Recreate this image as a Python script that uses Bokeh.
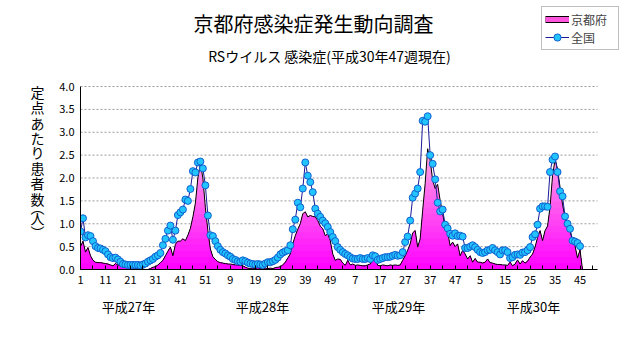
import numpy as np
from bokeh.plotting import figure
from bokeh.models import (Range1d, FixedTicker, Label, Legend, LegendItem,
                          NumeralTickFormatter, LinearAxis)
from bokeh.embed import file_html
from bokeh.resources import INLINE

# ---------------- data ----------------
tick_positions = [0, 10, 20, 30, 40, 50, 60, 70, 80, 90, 100, 110, 120, 130, 140, 150, 160, 170, 180, 190, 200]
tick_labels = ["1", "11", "21", "31", "41", "51", "9", "19", "29", "39", "49",
               "7", "17", "27", "37", "47", "5", "15", "25", "35", "45"]
year_labels = ["平成27年", "平成28年", "平成29年", "平成30年"]
y_ticks = [0, 0.5, 1, 1.5, 2, 2.5, 3, 3.5, 4]

# 全国 (national), weekly per-sentinel values
zenkoku = [
    0.83, 1.12, 0.70, 0.75, 0.73, 0.62, 0.51, 0.47, 0.46, 0.43,
    0.40, 0.33, 0.27, 0.25, 0.26, 0.22, 0.17, 0.12, 0.11, 0.10,
    0.10, 0.10, 0.10, 0.10, 0.09, 0.11, 0.13, 0.17, 0.20, 0.23,
    0.28, 0.31, 0.36, 0.53, 0.67, 0.85, 0.96, 0.65, 0.85, 1.19,
    1.25, 1.31, 1.53, 1.50, 1.76, 2.15, 2.12, 2.34, 2.36, 2.21,
    1.84, 1.18,
    0.75, 0.73, 0.62, 0.51, 0.43, 0.38, 0.35, 0.31, 0.28, 0.23,
    0.21, 0.18, 0.17, 0.20, 0.18, 0.15, 0.13, 0.12, 0.11, 0.12,
    0.11, 0.10, 0.13, 0.16, 0.16, 0.18, 0.21, 0.26, 0.33, 0.37,
    0.40, 0.42, 0.53, 0.88, 1.09, 1.46, 1.36, 1.77, 2.34, 2.05,
    1.91, 1.69, 1.33, 1.22, 1.15, 1.07, 1.01, 0.93, 0.82, 0.71,
    0.62, 0.49,
    0.43, 0.38, 0.34, 0.31, 0.27, 0.24, 0.23, 0.23, 0.25, 0.23,
    0.23, 0.25, 0.23, 0.31, 0.29, 0.21, 0.23, 0.25, 0.27, 0.27,
    0.28, 0.30, 0.32, 0.30, 0.31, 0.38, 0.60, 0.72, 1.07, 1.57,
    1.66, 1.77, 2.13, 3.25, 3.23, 3.35, 2.50, 2.31, 1.97, 1.46,
    1.27, 1.31, 0.98, 0.90, 0.78, 0.74, 0.79, 0.73, 0.74, 0.72,
    0.47, 0.47,
    0.50, 0.53, 0.49, 0.43, 0.38, 0.36, 0.38, 0.42, 0.43, 0.47,
    0.42, 0.38, 0.33, 0.42, 0.42, 0.38, 0.25, 0.27, 0.32, 0.33,
    0.32, 0.37, 0.38, 0.42, 0.49, 0.71, 0.77, 0.98, 1.33, 1.38,
    1.38, 1.37, 2.13, 2.40, 2.47, 2.13, 1.71, 1.60, 1.16, 1.00,
    0.89, 0.63, 0.61, 0.58, 0.51,
]

# 京都府 (Kyoto prefecture)
kyoto = [
    0.50, 0.62, 0.38, 0.48, 0.30, 0.20, 0.16, 0.15, 0.15, 0.14,
    0.13, 0.12, 0.10, 0.08, 0.13, 0.10, 0.08, 0.06, 0.05, 0.05,
    0.04, 0.04, 0.03, 0.02, 0.02, 0.01, 0.00, 0.00, 0.02, 0.05,
    0.06, 0.10, 0.15, 0.20, 0.30, 0.40, 0.49, 0.30, 0.55, 0.62,
    0.62, 0.67, 0.63, 0.75, 0.90, 1.15, 1.45, 2.00, 2.32, 2.00,
    1.35, 0.85,
    0.45, 0.28, 0.22, 0.17, 0.15, 0.14, 0.13, 0.12, 0.12, 0.11,
    0.10, 0.10, 0.09, 0.08, 0.05, 0.03, 0.02, 0.03, 0.02, 0.04,
    0.02, 0.01, 0.03, 0.02, 0.03, 0.02, 0.04, 0.05, 0.06, 0.10,
    0.16, 0.25, 0.34, 0.56, 0.74, 0.88, 1.00, 1.22, 1.26, 1.15,
    1.18, 1.16, 1.15, 1.07, 0.95, 0.89, 0.74, 0.78, 0.63, 0.34,
    0.20, 0.23,
    0.22, 0.14, 0.09, 0.20, 0.10, 0.12, 0.09, 0.10, 0.09, 0.08,
    0.08, 0.10, 0.12, 0.20, 0.25, 0.09, 0.08, 0.10, 0.09, 0.08,
    0.10, 0.09, 0.10, 0.09, 0.10, 0.20, 0.30, 0.42, 0.56, 0.80,
    0.85, 0.49, 0.67, 1.29, 1.88, 2.64, 2.39, 1.95, 1.77, 1.86,
    1.51, 1.22, 0.93, 0.82, 0.52, 0.60, 0.50, 0.56, 0.30, 0.42,
    0.34, 0.23,
    0.30, 0.16, 0.24, 0.16, 0.16, 0.14, 0.16, 0.23, 0.15, 0.14,
    0.12, 0.11, 0.11, 0.10, 0.10, 0.09, 0.16, 0.08, 0.12, 0.21,
    0.12, 0.19, 0.14, 0.18, 0.27, 0.34, 0.49, 0.70, 0.85, 0.63,
    0.85, 0.95, 1.36, 2.05, 2.40, 2.20, 1.80, 1.42, 1.15, 0.90,
    0.85, 0.63, 0.52, 0.25, 0.43, 0.00,
]

# ---------------- layout constants ----------------
FONT = "Noto Sans CJK JP"
W, H = 631, 347
PL, PR, PT, PB = 80, 597, 86, 269      # pixel box of the plotting area (axes extent)
XMAX = 207                              # category axis runs 0..207 (208 weeks)
YMAX = 4.0
# frame extends to the top and right edges of the canvas so that texts/legend fit
XEND = XMAX * (W - PL) / (PR - PL)
YEND = YMAX * PB / (PB - PT)


def to_data(X, Y):
    return ((X - PL) * XMAX / (PR - PL), (PB - Y) * YMAX / (PB - PT))


p = figure(width=W, height=H, output_backend="svg", toolbar_location=None, title=None,
           x_range=Range1d(0, XEND), y_range=Range1d(0, YEND),
           min_border_left=PL, min_border_right=0,
           min_border_top=0, min_border_bottom=H - PB)
p.outline_line_color = None
p.background_fill_color = "white"
p.border_fill_color = "white"
p.xgrid.grid_line_color = None
p.ygrid.grid_line_color = None

# horizontal dotted grid lines (y ticks), limited to the axis extent
p.segment(x0=[0] * len(y_ticks), x1=[XMAX] * len(y_ticks), y0=y_ticks, y1=y_ticks,
          line_color="#9a9a9a", line_dash="2 2", line_width=1)

# axes
p.xaxis.ticker = FixedTicker(ticks=tick_positions, minor_ticks=list(range(5, XMAX, 10)))
p.xaxis.major_label_overrides = {pos: lab for pos, lab in zip(tick_positions, tick_labels)}
p.xaxis.bounds = (0, XMAX)
p.xaxis.major_tick_in = 4
p.xaxis.major_tick_out = 0
p.xaxis.minor_tick_in = 4
p.xaxis.minor_tick_out = 0
p.xaxis.major_label_standoff = 6
p.yaxis.ticker = FixedTicker(ticks=y_ticks)
p.yaxis.formatter = NumeralTickFormatter(format="0.0")
p.yaxis.bounds = (0, YMAX)
p.yaxis.major_tick_in = 0
p.yaxis.major_tick_out = 0
p.yaxis.minor_tick_line_color = None
p.yaxis.major_label_standoff = 6
for ax in (p.xaxis, p.yaxis):
    ax.axis_line_color = "black"
    ax.axis_line_width = 1
    ax.major_tick_line_color = "black"
    ax.major_label_text_font = FONT
    ax.major_label_text_font_size = "11px"
    ax.major_label_text_color = "black"

# year labels as a second, line-less axis below the week axis
year_x = [round(to_data(X, 0)[0], 3) for X in (128, 262, 398, 533)]
yax = LinearAxis(ticker=FixedTicker(ticks=year_x),
                 major_label_overrides={x: lab for x, lab in zip(year_x, year_labels)},
                 axis_line_color=None, major_tick_line_color=None, minor_tick_line_color=None,
                 major_label_standoff=4, major_label_text_font=FONT,
                 major_label_text_font_size="13px", major_label_text_color="black")
p.add_layout(yax, "below")

# vertical y-axis title: one character per tick of a line-less second left axis
ychars = ["定", "点", "あ", "た", "り", "患", "者", "数", "︵", "人", "︶"]
ypos_px = [92, 107, 122, 137, 152, 168, 183, 198, 206, 218, 231]
ychar_y = [round(to_data(0, Y)[1], 4) for Y in ypos_px]
tax = LinearAxis(ticker=FixedTicker(ticks=ychar_y),
                 major_label_overrides={y: ch for y, ch in zip(ychar_y, ychars)},
                 axis_line_color=None, major_tick_line_color=None, minor_tick_line_color=None,
                 major_label_standoff=6, major_label_text_font=FONT,
                 major_label_text_font_size="14px", major_label_text_color="black")
p.add_layout(tax, "left")

# Kyoto area with vertical gradient (bands drawn top-down, each from 0)
xk = np.arange(len(kyoto))
kv = np.array(kyoto)
nb = 20
edges = np.linspace(0, 2.7, nb + 1)
c0 = np.array([255, 0, 255])
c1 = np.array([255, 175, 225])
for k in range(nb - 1, -1, -1):
    hi = edges[k + 1] if k < nb - 1 else 10.0
    t = (k + 0.5) / nb
    c = (c0 + (c1 - c0) * t).round().astype(int)
    col = "#%02x%02x%02x" % tuple(c)
    p.varea(x=xk, y1=np.zeros_like(kv), y2=np.minimum(kv, hi), fill_color=col)
p.line(xk, kv, line_color="black", line_width=1)

# national line + markers
xz = np.arange(len(zenkoku))
zl = p.line(xz, zenkoku, line_color="#1a1a99", line_width=1)
zs = p.scatter(xz, zenkoku, size=7, fill_color="#22c4ff", line_color="#1060d0", line_width=1)

# legend (the Kyoto swatch: a black-edged pink bar, drawn by two off-range line renderers)
lk1 = p.line(x=[0, 1], y=[-1, -1], line_color="black", line_width=7)
lk2 = p.line(x=[0, 1], y=[-1, -1], line_color="#ff55dd", line_width=5)
legend = Legend(items=[LegendItem(label="京都府", renderers=[lk1, lk2]),
                       LegendItem(label="全国", renderers=[zl, zs])],
                location=(541 - PL, PB - 50))
legend.label_text_font = FONT
legend.label_text_font_size = "12px"
legend.glyph_width = 24
legend.glyph_height = 18
legend.label_height = 18
legend.label_width = 44
legend.spacing = 0
legend.padding = 3
legend.margin = 0
legend.label_standoff = 2
legend.border_line_color = "#808080"
legend.background_fill_color = "white"
legend.background_fill_alpha = 1.0
p.add_layout(legend)


def add_text(txt, X, Y, size, align="center"):
    x, y = to_data(X, Y)
    p.add_layout(Label(x=x, y=y, text=txt, text_font=FONT, text_font_size=f"{size}px",
                       text_align=align, text_baseline="middle", text_color="black"))


add_text("京都府感染症発生動向調査", 313, 23, 20)
add_text("RSウイルス 感染症(平成30年47週現在)", 329, 55, 14)

open("out.html", "w").write(file_html(p, INLINE))
